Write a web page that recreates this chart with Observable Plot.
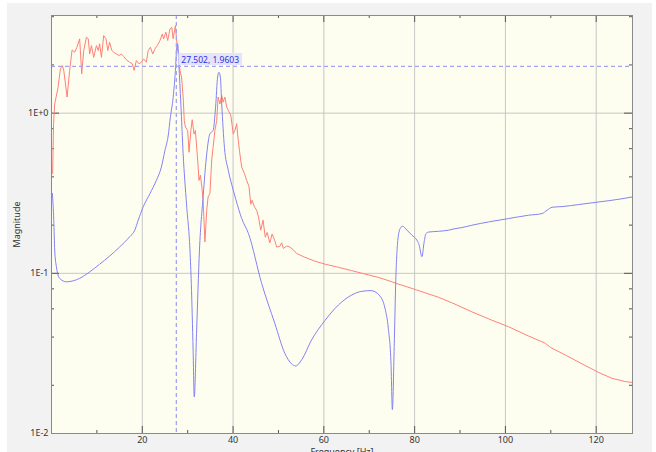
<!DOCTYPE html>
<html><head><meta charset="utf-8">
<script src="https://cdn.jsdelivr.net/npm/d3@7"></script>
<script src="https://cdn.jsdelivr.net/npm/@observablehq/plot@0.6"></script>
<style>
html,body{margin:0;padding:0;background:#fff;width:656px;height:452px;overflow:hidden;}
#panel{position:absolute;left:7px;top:3px;width:645px;height:449px;background:#f2f2f2;}
#chart{position:absolute;left:0;top:0;}
</style></head><body><div id="panel"></div><div id="chart"></div>
<script>
const redFreq = [0.25,0.45,0.7,1.45,1.96,2.4,2.7,3.44,4.0,4.54,
 5.1,5.6,6.2,6.66,7.1,7.7,8.1,8.4,8.8,9.3,
 9.9,10.3,10.6,11.0,11.5,12.0,12.4,12.8,13.3,13.7,
 14.3,14.9,15.4,15.9,16.5,17.2,17.8,18.2,18.7,19.3,
 19.8,20.3,20.9,21.3,21.8,22.3,22.8,23.3,23.9,24.4,
 24.7,25.2,25.6,26.1,26.5,26.8,27.3,27.7,27.9,28.3,
 28.65,29.0,29.25,29.5,30.0,30.3,30.7,31.0,31.4,31.7,
 32.2,32.5,32.8,33.1,33.4,33.8,34.2,34.5,34.9,35.3,
 35.6,36.0,36.4,36.7,37.1,37.5,37.8,38.2,38.6,38.95,
 39.5,40.05,40.4,40.8,41.0,41.4,41.9,42.5,43.0,43.5,
 43.9,44.2,44.7,45.2,45.6,46.1,46.6,47.1,47.5,48.1,
 48.6,49.2,49.6,50.3,50.7,51.1,51.8,52.5,53.3,54.0,
 55.8,58.05,60.3,63.2,66.1,69.1,72.0,73.9,75.0,76.4,
 79.4,82.3,85.3,88.2,92.6,97.0,100.7,105.1,108.8,109.9,
 113.2,116.9,120.6,123.5,126.4,128];
const redMag = [0.42,0.85,1.14,1.45,1.89,1.98,1.85,1.26,1.85,2.48,
 2.40,2.58,2.91,1.76,2.46,2.98,2.91,2.34,2.64,2.23,
 2.64,2.46,2.71,2.23,3.05,2.91,2.46,2.77,2.46,2.40,
 2.34,2.29,2.34,2.26,2.15,2.08,2.03,1.85,2.13,2.03,
 2.08,2.18,2.08,2.46,2.58,2.34,2.52,2.64,2.84,3.12,
 2.91,3.20,2.84,3.36,3.43,2.91,3.52,2.6,2.4,1.85,
 1.68,1.26,0.90,0.82,0.78,0.57,0.78,0.91,0.74,0.78,
 0.51,0.38,0.41,0.35,0.286,0.157,0.248,0.30,0.315,0.51,
 0.61,0.78,0.90,1.26,1.14,1.29,1.17,1.26,1.09,1.04,
 0.97,0.74,0.78,0.86,0.74,0.586,0.46,0.42,0.38,0.35,
 0.27,0.286,0.26,0.248,0.225,0.186,0.215,0.168,0.18,0.155,
 0.176,0.16,0.146,0.147,0.155,0.143,0.148,0.146,0.140,0.133,
 0.126,0.119,0.114,0.109,0.104,0.0989,0.0943,0.0907,0.0885,0.0857,
 0.0805,0.0756,0.0708,0.0655,0.0575,0.051,0.0464,0.0406,0.0366,0.0345,
 0.0309,0.0272,0.024,0.0221,0.0211,0.0208];
const blueFreq = [0.2,0.5,0.7,1.08,1.8,3.3,4.8,6.2,8.4,10.6,
 12.8,15.0,17.2,18.35,19.1,20.2,21.7,23.1,24.2,25.0,
 25.7,26.2,26.8,27.3,27.6,27.8,28.05,28.5,29.0,29.75,
 30.5,30.8,31.2,31.45,31.95,32.6,33.4,34.2,34.9,35.6,
 36.15,36.6,36.9,37.2,37.5,38.1,38.95,40.05,40.6,41.9,
 43.4,46.3,49.2,51.4,52.9,53.8,55.1,57.3,60.3,63.2,
 66.1,68.35,70.4,72.2,73.5,74.2,74.8,75.1,75.5,75.85,
 76.3,76.8,77.3,78.3,79.4,80.5,81.0,81.6,82.1,82.5,
 83.1,85.3,87.5,88.9,90.4,92.6,96.3,100.7,105.1,108.05,
 109.2,110.3,112.5,116.1,120.6,125.0,128];
const blueMag = [0.315,0.2145,0.14,0.11,0.093,0.0885,0.0898,0.093,0.102,0.114,
 0.128,0.146,0.169,0.186,0.2145,0.26,0.315,0.38,0.46,0.586,
 0.72,0.95,1.25,1.85,2.58,2.71,2.03,1.14,0.558,0.27,
 0.14,0.0865,0.033,0.0169,0.042,0.14,0.30,0.558,0.744,0.78,
 1.09,1.68,1.80,1.68,1.14,0.61,0.44,0.33,0.29,0.22,
 0.177,0.0865,0.0487,0.0317,0.0272,0.0264,0.0288,0.0384,0.051,0.0634,
 0.0731,0.0772,0.078,0.073,0.060,0.0455,0.027,0.0141,0.0348,0.0907,
 0.161,0.19,0.197,0.186,0.173,0.161,0.15,0.127,0.157,0.177,
 0.181,0.183,0.186,0.19,0.193,0.1996,0.2094,0.2198,0.2305,0.236,
 0.248,0.2585,0.261,0.2687,0.279,0.29,0.30];
const xMajorTicks = [20,40,60,80,100,120];
const xMinorTicks = [10,30,50,70,90,110];
const yMajorTicks = [1,0.1,0.01];
const yMinorTicks = [0.02,0.04,0.06,0.08,0.2,0.4,0.6,0.8,2,4];
const yGridLines = [1,0.1];
const cursorX = 27.502, cursorY = 1.9603;
const xDomain = [0,128];
const yDomain = [0.01,4.07];
const xLabel = "Frequency [Hz]", yLabel = "Magnitude";

const red = redFreq.map((f,i)=>({f, m: redMag[i]}));
const blue = blueFreq.map((f,i)=>({f, m: blueMag[i]}));
const cursorText = `${cursorX}, ${cursorY}`;

const W=656,H=452,mL=51,mR=24,mT=15,mB=19;
const pw=W-mL-mR, ph=H-mT-mB;
const tickCol="#555";
const plot = Plot.plot({
  width:W,height:H,marginLeft:mL,marginRight:mR,marginTop:mT,marginBottom:mB,
  style:{background:"transparent",fontFamily:"'Noto Sans', sans-serif",fontSize:"9px",color:"#333",overflow:"visible"},
  x:{domain:xDomain},
  y:{type:"log",domain:yDomain},
  marks:[
    Plot.frame({fill:"#fefef0",stroke:null}),
    Plot.gridX(xMajorTicks,{stroke:"#c6c6c6",strokeOpacity:1}),
    Plot.gridY(yGridLines,{stroke:"#c6c6c6",strokeOpacity:1}),
    Plot.tickX(xMajorTicks,{x:d=>d,insetTop:ph-7,stroke:tickCol}),
    Plot.tickX(xMajorTicks,{x:d=>d,insetBottom:ph-7,stroke:tickCol}),
    Plot.tickX(xMinorTicks,{x:d=>d,insetTop:ph-3,stroke:tickCol}),
    Plot.tickX(xMinorTicks,{x:d=>d,insetBottom:ph-3,stroke:tickCol}),
    Plot.tickY(yMajorTicks,{y:d=>d,insetRight:pw-8,stroke:tickCol}),
    Plot.tickY(yMajorTicks,{y:d=>d,insetLeft:pw-8,stroke:tickCol}),
    Plot.tickY(yMinorTicks,{y:d=>d,insetRight:pw-3,stroke:tickCol}),
    Plot.tickY(yMinorTicks,{y:d=>d,insetLeft:pw-3,stroke:tickCol}),
    Plot.line(red,{x:"f",y:"m",stroke:"#ff8078",strokeWidth:1}),
    Plot.line(blue,{x:"f",y:"m",stroke:"#8282f4",strokeWidth:1,curve:"monotone-x"}),
    Plot.ruleX([cursorX],{stroke:"#a4a4f2",strokeDasharray:"4,3",strokeWidth:1.3}),
    Plot.ruleY([cursorY],{stroke:"#a4a4f2",strokeDasharray:"4,3",strokeWidth:1.3}),
    Plot.text([{x:cursorX,y:cursorY}],{x:"x",y:"y",text:()=>cursorText,textAnchor:"start",dx:5,dy:-6,fill:"#3030e0",fontSize:8.5}),
    Plot.frame({stroke:"#8a8a8a"}),
    Plot.axisX(xMajorTicks,{tickSize:0,tickPadding:3,tickFormat:d=>String(d),label:xLabel,labelArrow:"none",labelAnchor:"center",labelOffset:21}),
    Plot.axisY(yMajorTicks,{tickSize:0,tickPadding:3,tickFormat:d=>d.toExponential(0).toUpperCase(),label:yLabel,labelArrow:"none",labelAnchor:"center",labelOffset:38})
  ]
});
document.getElementById("chart").appendChild(plot);
// background box behind cursor label
d3.select(plot).selectAll("text").each(function(){
  if (this.textContent === cursorText) {
    const b = this.getBBox();
    const t = this.getAttribute("transform");
    const r = document.createElementNS("http://www.w3.org/2000/svg","rect");
    r.setAttribute("x", b.x-3); r.setAttribute("y", b.y-1);
    r.setAttribute("width", b.width+6); r.setAttribute("height", b.height+1);
    r.setAttribute("fill","#e4e4fa");
    if (t) r.setAttribute("transform", t);
    this.parentNode.insertBefore(r, this);
  }
});
</script></body></html>
